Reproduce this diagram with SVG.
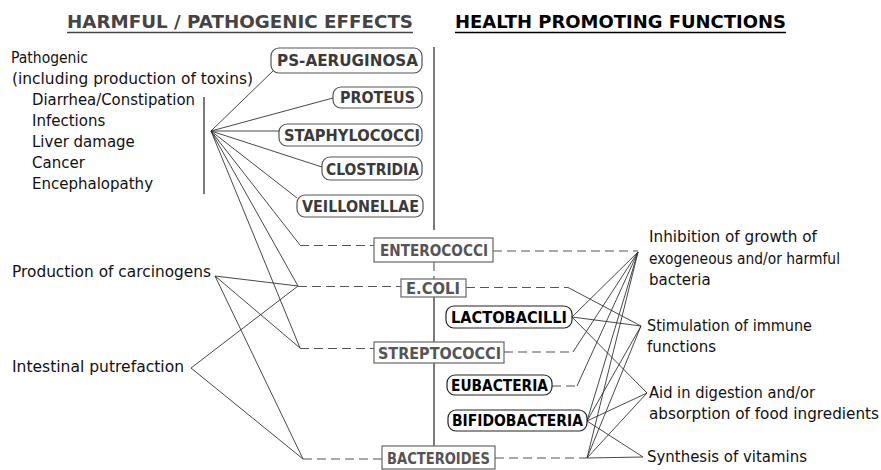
<svg xmlns="http://www.w3.org/2000/svg" width="881" height="470" viewBox="0 0 881 470">
<style>
.t{font-family:"DejaVu Sans",Verdana,sans-serif;font-size:15px;fill:#111}
.title{font-family:"DejaVu Sans",Verdana,sans-serif;font-size:18px;font-weight:bold}
.bl{font-family:"DejaVu Sans",Verdana,sans-serif;font-size:15.5px;font-weight:bold}
.harm rect{fill:#fff;stroke:#555;stroke-width:1.2}
.harm text{fill:#3a3a3a}
.good rect{fill:#fff;stroke:#222;stroke-width:1.2}
.good text{fill:#000}
.box rect{fill:#fff;stroke:#666;stroke-width:1.2}
.box text{fill:#555}
.ln{stroke:#333;stroke-width:0.9;fill:none}
.ds{stroke:#555;stroke-width:1.1;fill:none;stroke-dasharray:9 5}
.vl{stroke:#222;stroke-width:1.2;fill:none}
</style>
<rect width="881" height="470" fill="#fff"/>
<g id="titles">
<text class="title" x="67" y="28" fill="#444" textLength="346" lengthAdjust="spacingAndGlyphs">HARMFUL / PATHOGENIC EFFECTS</text>
<line x1="67" y1="32.5" x2="413" y2="32.5" stroke="#444" stroke-width="1.6"/>
<text class="title" x="455" y="28" fill="#000" textLength="331" lengthAdjust="spacingAndGlyphs">HEALTH PROMOTING FUNCTIONS</text>
<line x1="455" y1="32.5" x2="786" y2="32.5" stroke="#000" stroke-width="1.6"/>
</g>
<g id="pathogenic">
<text class="t" x="11" y="63" textLength="77" lengthAdjust="spacingAndGlyphs">Pathogenic</text>
<text class="t" x="12" y="84" textLength="241" lengthAdjust="spacingAndGlyphs">(including production of toxins)</text>
<text class="t" x="32" y="105" textLength="163" lengthAdjust="spacingAndGlyphs">Diarrhea/Constipation</text>
<text class="t" x="32" y="126">Infections</text>
<text class="t" x="32" y="147">Liver damage</text>
<text class="t" x="32" y="168">Cancer</text>
<text class="t" x="32" y="189">Encephalopathy</text>
<line class="vl" x1="204" y1="97" x2="204" y2="194"/>
</g>
<g id="carcinogens"><text class="t" x="12" y="277" textLength="199" lengthAdjust="spacingAndGlyphs">Production of carcinogens</text></g>
<g id="putrefaction"><text class="t" x="12" y="372" textLength="172" lengthAdjust="spacingAndGlyphs">Intestinal putrefaction</text></g>
<g id="inhibition">
<text class="t" x="649" y="242" textLength="168" lengthAdjust="spacingAndGlyphs">Inhibition of growth of</text>
<text class="t" x="649" y="264" textLength="191" lengthAdjust="spacingAndGlyphs">exogeneous and/or harmful</text>
<text class="t" x="649" y="285">bacteria</text>
</g>
<g id="stimulation">
<text class="t" x="647" y="331" textLength="165" lengthAdjust="spacingAndGlyphs">Stimulation of immune</text>
<text class="t" x="647" y="352">functions</text>
</g>
<g id="aid">
<text class="t" x="649" y="398" textLength="166" lengthAdjust="spacingAndGlyphs">Aid in digestion and/or</text>
<text class="t" x="649" y="419" textLength="230" lengthAdjust="spacingAndGlyphs">absorption of food ingredients</text>
</g>
<g id="synthesis"><text class="t" x="647" y="462" textLength="160" lengthAdjust="spacingAndGlyphs">Synthesis of vitamins</text></g>

<g id="connectors">
<line class="vl" x1="434" y1="47" x2="434" y2="230"/>
<line class="ds" x1="434" y1="262" x2="434" y2="279" stroke-dasharray="4 4"/>
<line class="vl" x1="434" y1="297" x2="434" y2="342"/>
<line class="vl" x1="434" y1="363" x2="434" y2="446"/>
<line class="ln" x1="211" y1="131" x2="274" y2="70"/>
<line class="ln" x1="211" y1="131" x2="333" y2="98"/>
<line class="ln" x1="211" y1="131" x2="279" y2="131"/>
<line class="ln" x1="211" y1="131" x2="322" y2="167"/>
<line class="ln" x1="211" y1="131" x2="297" y2="198"/>
<line class="ln" x1="211" y1="131" x2="300" y2="245"/>
<line class="ln" x1="211" y1="131" x2="298" y2="286"/>
<line class="ln" x1="211" y1="131" x2="300" y2="348"/>
<line class="ln" x1="215" y1="276" x2="298" y2="286"/>
<line class="ln" x1="215" y1="276" x2="300" y2="348"/>
<line class="ln" x1="215" y1="276" x2="303" y2="459"/>
<line class="ln" x1="191" y1="368" x2="298" y2="286"/>
<line class="ln" x1="191" y1="368" x2="303" y2="459"/>
<line class="ds" x1="300" y1="245.5" x2="374" y2="245.5"/>
<line class="ds" x1="298" y1="286.5" x2="401" y2="286.5"/>
<line class="ds" x1="300" y1="348.5" x2="374" y2="348.5"/>
<line class="ds" x1="303" y1="459" x2="382" y2="459"/>
<line class="ds" x1="493" y1="251" x2="638" y2="251"/>
<line class="ds" x1="466" y1="287.5" x2="568" y2="287.5"/>
<line class="ds" x1="504" y1="352" x2="573" y2="352"/>
<line class="ds" x1="552" y1="386" x2="577" y2="386"/>
<line class="ds" x1="495" y1="458" x2="587" y2="458"/>
<line class="ln" x1="568" y1="287.5" x2="641" y2="326"/>
<line class="ln" x1="572" y1="317" x2="638" y2="252"/>
<line class="ln" x1="572" y1="317" x2="641" y2="326"/>
<line class="ln" x1="572" y1="317" x2="647" y2="393"/>
<line class="ln" x1="573" y1="352" x2="638" y2="252"/>
<line class="ln" x1="577" y1="386" x2="638" y2="252"/>
<line class="ln" x1="587" y1="421" x2="638" y2="252"/>
<line class="ln" x1="587" y1="421" x2="641" y2="326"/>
<line class="ln" x1="587" y1="421" x2="647" y2="393"/>
<line class="ln" x1="587" y1="421" x2="643" y2="457"/>
<line class="ln" x1="587" y1="458" x2="638" y2="252"/>
<line class="ln" x1="587" y1="458" x2="641" y2="326"/>
<line class="ln" x1="587" y1="458" x2="647" y2="393"/>
<line class="ln" x1="587" y1="458" x2="643" y2="457"/>
</g>

<g id="ps-aeruginosa" class="harm"><rect x="271" y="48" width="151" height="25" rx="8"/><text class="bl" x="277" y="66" textLength="141" lengthAdjust="spacingAndGlyphs">PS-AERUGINOSA</text></g>
<g id="proteus" class="harm"><rect x="333" y="87" width="89" height="21" rx="8"/><text class="bl" x="340" y="103" textLength="75" lengthAdjust="spacingAndGlyphs">PROTEUS</text></g>
<g id="staphylococci" class="harm"><rect x="279" y="124" width="143" height="22" rx="8"/><text class="bl" x="284" y="140.5" textLength="136" lengthAdjust="spacingAndGlyphs">STAPHYLOCOCCI</text></g>
<g id="clostridia" class="harm"><rect x="322" y="157" width="100" height="23" rx="8"/><text class="bl" x="326" y="174.5" textLength="93" lengthAdjust="spacingAndGlyphs">CLOSTRIDIA</text></g>
<g id="veillonellae" class="harm"><rect x="297" y="195" width="126" height="22" rx="8"/><text class="bl" x="302" y="211.5" textLength="117" lengthAdjust="spacingAndGlyphs">VEILLONELLAE</text></g>

<g id="enterococci" class="box"><rect x="374" y="238" width="119" height="24"/><text class="bl" x="380" y="256" textLength="108" lengthAdjust="spacingAndGlyphs">ENTEROCOCCI</text></g>
<g id="ecoli" class="box"><rect x="401" y="279" width="65" height="18"/><text class="bl" x="406" y="294" textLength="54" lengthAdjust="spacingAndGlyphs">E.COLI</text></g>
<g id="streptococci" class="box"><rect x="374" y="342" width="130" height="21"/><text class="bl" x="378" y="358.5" textLength="123" lengthAdjust="spacingAndGlyphs">STREPTOCOCCI</text></g>
<g id="bacteroides" class="box"><rect x="382" y="446" width="113" height="23"/><text class="bl" x="387" y="463.5" textLength="103" lengthAdjust="spacingAndGlyphs">BACTEROIDES</text></g>

<g id="lactobacilli" class="good"><rect x="446" y="306" width="126" height="22" rx="8"/><text class="bl" x="451" y="323" textLength="116" lengthAdjust="spacingAndGlyphs">LACTOBACILLI</text></g>
<g id="eubacteria" class="good"><rect x="447" y="375" width="105" height="20" rx="8"/><text class="bl" x="451" y="391" textLength="97" lengthAdjust="spacingAndGlyphs">EUBACTERIA</text></g>
<g id="bifidobacteria" class="good"><rect x="448" y="410" width="139" height="21" rx="8"/><text class="bl" x="452" y="426" textLength="131" lengthAdjust="spacingAndGlyphs">BIFIDOBACTERIA</text></g>
</svg>
